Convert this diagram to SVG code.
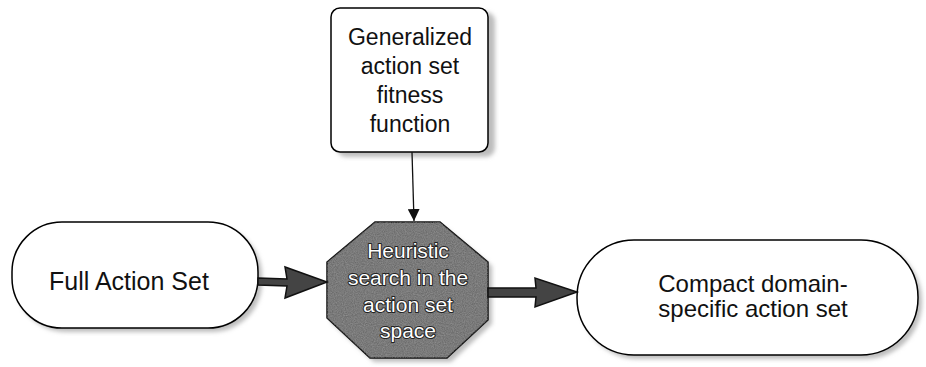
<svg xmlns="http://www.w3.org/2000/svg" width="926" height="367" viewBox="0 0 926 367">
<style>
.box{fill:#fff;stroke:#000;stroke-width:1.5}
.t{font-family:"Liberation Sans",Arial,sans-serif;font-size:23px;fill:#111;text-anchor:middle}
.tw{font-family:"Liberation Sans",Arial,sans-serif;font-size:21px;fill:#fff;text-anchor:middle;stroke:#222;stroke-width:2;paint-order:stroke;stroke-linejoin:round}
.sh{fill:#bdbdbd;filter:url(#blur)}
</style>
<defs>
<filter id="blur" x="-10%" y="-10%" width="120%" height="120%"><feGaussianBlur stdDeviation="2"/></filter>
<filter id="noise" x="0" y="0" width="100%" height="100%">
<feTurbulence type="fractalNoise" baseFrequency="0.9" numOctaves="2" seed="3" result="n"/>
<feColorMatrix in="n" type="matrix" values="0 0 0 0 0.42  0 0 0 0 0.42  0 0 0 0 0.42  0 0 0 1.2 -0.2" result="c"/>
<feComposite in="c" in2="SourceGraphic" operator="in"/>
</filter>
<marker id="thin" markerWidth="12" markerHeight="12" refX="10" refY="5" orient="auto" markerUnits="userSpaceOnUse" viewBox="0 0 10 10"><path d="M0,0 L10,5 L0,10 Z" fill="#111"/></marker>
</defs>
<g id="fitness">
<rect class="sh" x="337" y="12" width="158" height="145" rx="9"/>
<rect class="box" x="331" y="8" width="157" height="144" rx="9"/>
<text class="t" x="410" y="45">Generalized</text>
<text class="t" x="410" y="74">action set</text>
<text class="t" x="410" y="103">fitness</text>
<text class="t" x="410" y="132">function</text>
</g>
<g id="full">
<rect class="sh" x="16" y="226" width="246" height="106" rx="50"/>
<rect class="box" x="12" y="222" width="246" height="106" rx="50"/>
<text class="t" x="129" y="290" style="font-size:25px">Full Action Set</text>
</g>
<g id="search">
<polygon class="sh" points="379,227 444,227 492,266 492,324 451,362 374,362 331,322 331,266"/>
<polygon points="375,222 440,222 488,262 488,320 447,358 370,358 327,318 327,262" fill="#6a6a6a" stroke="#111" stroke-width="1.5"/>
<polygon points="375,222 440,222 488,262 488,320 447,358 370,358 327,318 327,262" fill="#999" filter="url(#noise)" opacity="0.6"/>
<text class="tw" x="408" y="258">Heuristic</text>
<text class="tw" x="408" y="285">search in the</text>
<text class="tw" x="408" y="312">action set</text>
<text class="tw" x="408" y="338">space</text>
</g>
<g id="compact">
<rect class="sh" x="581" y="244" width="341" height="115" rx="57"/>
<rect class="box" x="577" y="240" width="341" height="115" rx="57"/>
<text class="t" x="753" y="292" style="font-size:24px">Compact domain-</text>
<text class="t" x="753" y="317" style="font-size:24px">specific action set</text>
</g>
<g id="connectors">
<line x1="412" y1="152" x2="414" y2="221" stroke="#111" stroke-width="1.3" marker-end="url(#thin)"/>
<path d="M258,278 L287,279 L285,267 L327,282 L285,298 L287,286 L258,285 Z" fill="#444" stroke="#111" stroke-width="1.5"/>
<path d="M488,288 L536,288 L535,278 L577,292 L535,307 L536,297 L488,297 Z" fill="#444" stroke="#111" stroke-width="1.5"/>
</g>
</svg>
